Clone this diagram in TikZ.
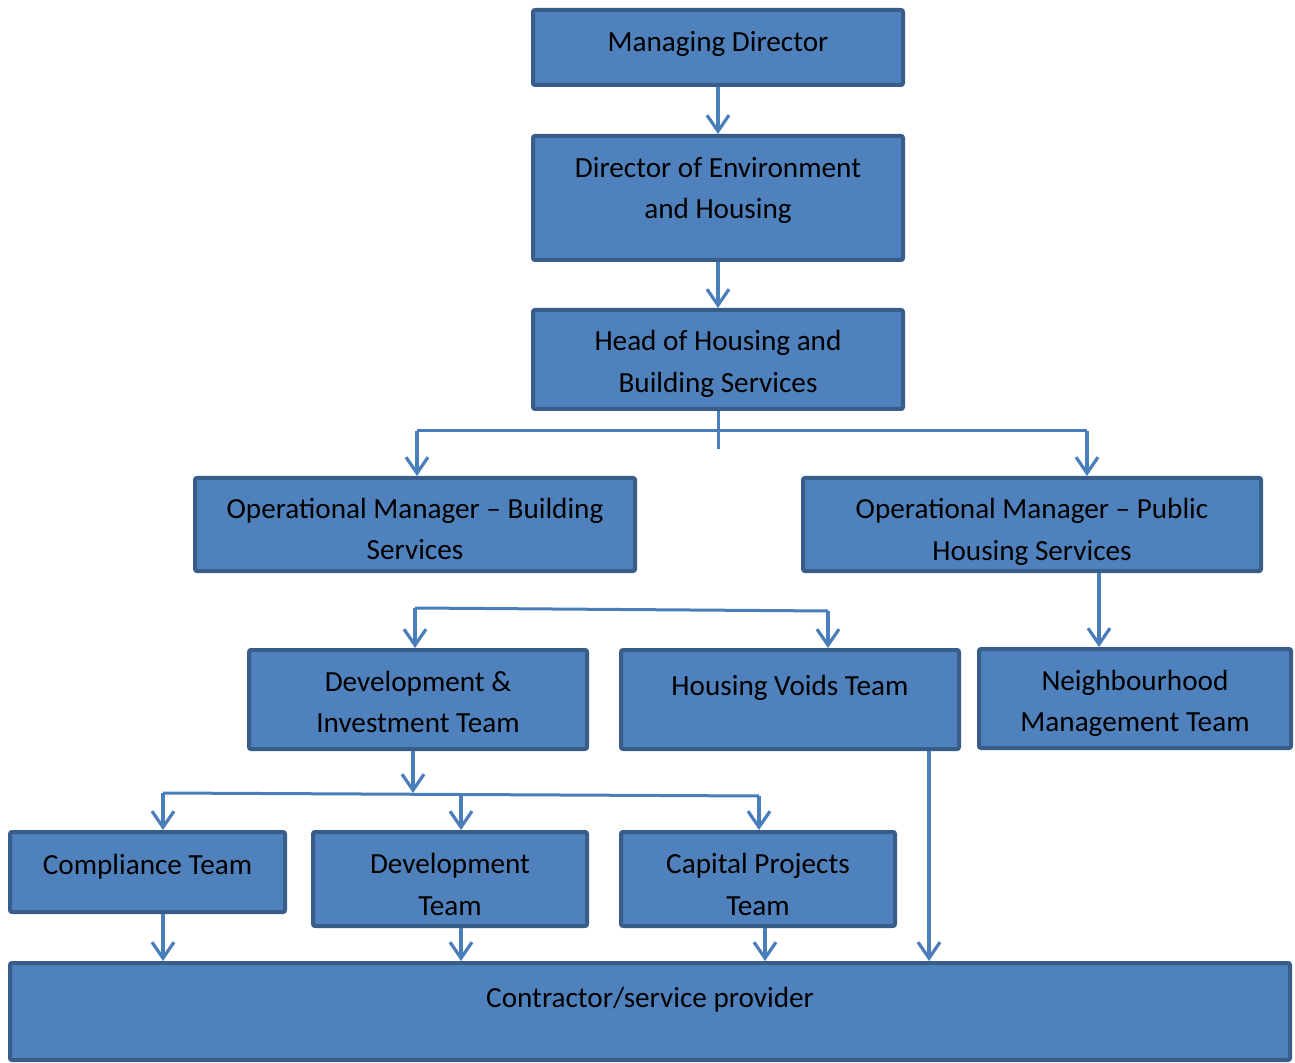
\documentclass[tikz,border=0pt]{standalone}
\usepackage{fontspec}
\setmainfont{Carlito}
\usepackage{xcolor}
\usetikzlibrary{arrows.meta}
\definecolor{boxfill}{HTML}{4F81BD}
\definecolor{boxline}{HTML}{385D8A}
\definecolor{linkblue}{HTML}{4A7EBB}
\tikzset{
  unit/.style={draw=boxline, fill=boxfill, line width=2pt, rounded corners=1pt, inner sep=0pt},
  txt/.style={align=center, font=\fontsize{14.6}{20.75}\selectfont, inner sep=0pt},
  link/.style={draw=linkblue, line width=1.6pt, -{Straight Barb[length=8pt, width=11pt, line width=1.6pt]}},
  bar/.style={draw=linkblue, line width=1.5pt}
}

\begin{document}
\begin{tikzpicture}[x=0.5pt, y=-0.5pt]
    \useasboundingbox (0,0) rectangle (1295,1063);
    \node[unit, minimum width=185pt, minimum height=37.5pt, label={[txt, yshift=1.75pt]center:Managing Director}] (md) at (718,47.5) {};
    \node[unit, minimum width=185pt, minimum height=62pt, label={[txt, yshift=3.75pt]center:Director of Environment\\and Housing}] (dir) at (718,198) {};
    \node[unit, minimum width=185pt, minimum height=49.5pt, label={[txt, yshift=-2.25pt]center:Head of Housing and\\Building Services}] (head) at (718,359.5) {};
    \node[unit, minimum width=220pt, minimum height=46.5pt, label={[txt, yshift=-2.25pt]center:Operational Manager -- Building\\Services}] (opb) at (415,524.5) {};
    \node[unit, minimum width=229pt, minimum height=46.5pt, label={[txt, yshift=-3.75pt]center:Operational Manager -- Public\\Housing Services}] (opp) at (1032,524.5) {};
    \node[unit, minimum width=169pt, minimum height=49.5pt, label={[txt, yshift=-1.25pt]center:Development \&\\Investment Team}] (dev) at (418,699.5) {};
    \node[unit, minimum width=169pt, minimum height=49.5pt, label={[txt, yshift=5.75pt]center:Housing Voids Team}] (voids) at (790,699.5) {};
    \node[unit, minimum width=156pt, minimum height=49.5pt, label={[txt, yshift=-2.5pt]center:Neighbourhood\\Management Team}] (nbh) at (1135,698.5) {};
    \node[unit, minimum width=137.5pt, minimum height=40pt, label={[txt, yshift=2.5pt]center:Compliance Team}] (comp) at (147.5,872) {};
    \node[unit, minimum width=137pt, minimum height=47pt, label={[txt, yshift=-2.75pt]center:Development\\Team}] (devt) at (450,879) {};
    \node[unit, minimum width=137pt, minimum height=47pt, label={[txt, yshift=-2.75pt]center:Capital Projects\\Team}] (cap) at (758,879) {};
    \node[unit, minimum width=640pt, minimum height=48.5pt, label={[txt, yshift=5.75pt]center:Contractor/service provider}] (con) at (650,1011.5) {};
    % top of the chart
    \draw[link] (md) -- (dir);
    \draw[link] (dir) -- (head);
    \coordinate (hstub) at (718,449);
    \coordinate (b1) at (417,431);
    \coordinate (b2) at (1087,431);
    \draw[bar] (head.south) -- (hstub);
    \draw[bar] (b1) -- (b2);
    \draw[link] (b1) -- (b1 |- opb.north);
    \draw[link] (b2) -- (b2 |- opp.north);
    % middle row
    \coordinate (c1) at (415,608);
    \coordinate (c2) at (828,611);
    \draw[bar] (c1) -- (c2);
    \draw[link] (c1) -- (c1 |- dev.north);
    \draw[link] (c2) -- (c2 |- voids.north);
    \coordinate (k0) at (1099,610);
    \draw[link] (k0 |- opp.south) -- (k0 |- nbh.north);
    % teams
    \coordinate (e0) at (413,793);
    \coordinate (e1) at (163,793);
    \coordinate (e2) at (759,796);
    \coordinate (e3) at (461,794.5);
    \draw[link] (dev.south -| e0) -- (e0);
    \draw[bar] (e1) -- (e2);
    \draw[link] (e1) -- (e1 |- comp.north);
    \draw[link] (e3) -- (e3 |- devt.north);
    \draw[link] (e2) -- (e2 |- cap.north);
    % down to the contractor
    \coordinate (k1) at (765,945);
    \coordinate (k2) at (929,850);
    \draw[link] (e1 |- comp.south) -- (e1 |- con.north);
    \draw[link] (e3 |- devt.south) -- (e3 |- con.north);
    \draw[link] (k1 |- cap.south) -- (k1 |- con.north);
    \draw[link] (k2 |- voids.south) -- (k2 |- con.north);
\end{tikzpicture}
\end{document}
